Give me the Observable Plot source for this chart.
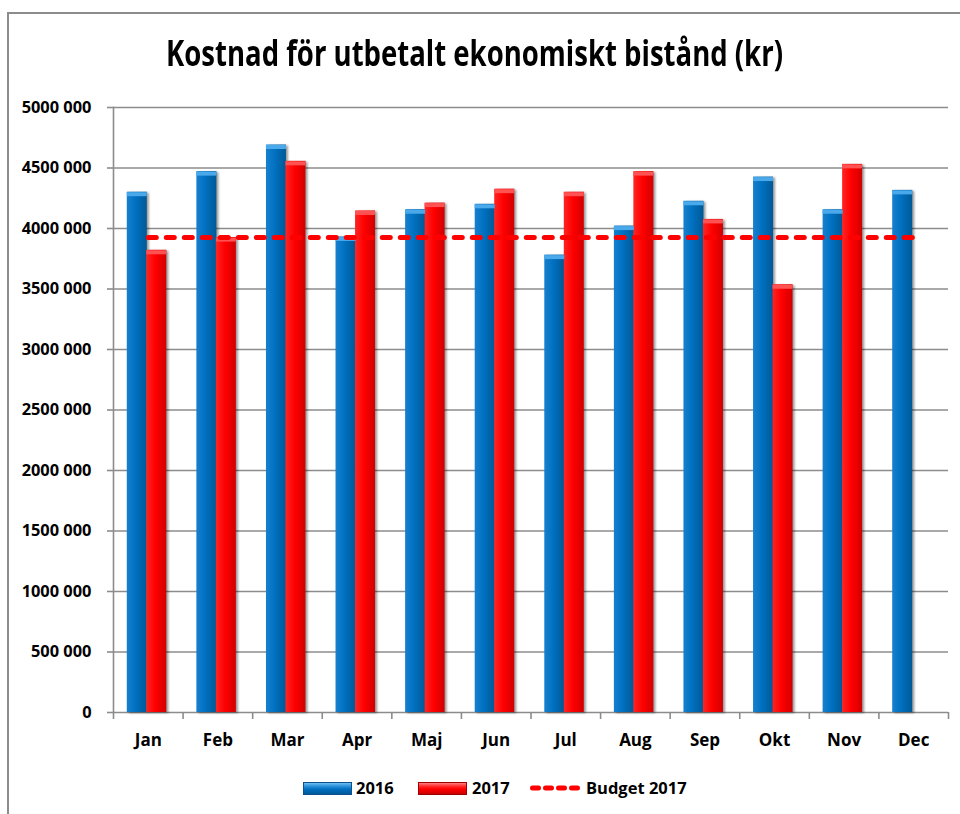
<!DOCTYPE html>
<html>
<head>
<meta charset="utf-8">
<script src="https://cdn.jsdelivr.net/npm/d3@7"></script>
<script src="https://cdn.jsdelivr.net/npm/@observablehq/plot@0.6"></script>
<style>
  html, body { margin: 0; padding: 0; background: #fff; }
  #wrap { position: relative; width: 960px; height: 814px; overflow: hidden; font-family: "Open Sans", "Noto Sans", sans-serif; color: #000; }
  #frame { position: absolute; left: 7px; top: 12px; width: 980px; height: 900px; border-left: 2px solid #8c8c8c; border-top: 2px solid #8c8c8c; }
  #title { position: absolute; left: 166px; top: 35px; font-size: 36px; font-weight: 700; line-height: 1; white-space: nowrap; transform-origin: 0 0; }
  #chart { position: absolute; left: 0; top: 95px; }
  .leg { position: absolute; font-size: 16.5px; font-weight: 700; line-height: 1; white-space: nowrap; }
  .sw { position: absolute; width: 47px; height: 11px; top: 782px; }
  #sw16 { background: linear-gradient(to bottom, #6cc0f2 0%, #2a8fd8 30%, #0070c0 55%, #005a9c 100%); border: 1px solid #10508a; }
  #sw17 { background: linear-gradient(to bottom, #ff8080 0%, #ff2a2a 30%, #ff0000 55%, #c80000 100%); border: 1px solid #a00000; }
</style>
</head>
<body>
<svg width="0" height="0" style="position:absolute">
  <defs>
    <linearGradient id="g2016" x1="0" x2="1" y1="0" y2="0">
      <stop offset="0" stop-color="#1680cf"/>
      <stop offset="0.45" stop-color="#0070c0"/>
      <stop offset="1" stop-color="#005996"/>
    </linearGradient>
    <linearGradient id="g2017" x1="0" x2="1" y1="0" y2="0">
      <stop offset="0" stop-color="#ff2424"/>
      <stop offset="0.45" stop-color="#ff0000"/>
      <stop offset="1" stop-color="#d20000"/>
    </linearGradient>
  </defs>
</svg>
<div id="wrap">
  <div id="frame"></div>
  <span id="title">Kostnad för utbetalt ekonomiskt bistånd (kr)</span>
  <div id="chart"></div>
  <div class="sw" id="sw16" style="left:303px"></div>
  <span class="leg" id="l16" style="left:356px; top:780px">2016</span>
  <div class="sw" id="sw17" style="left:418px"></div>
  <span class="leg" id="l17" style="left:472px; top:780px">2017</span>
  <svg style="position:absolute; left:528px; top:780px" width="56" height="16">
    <line x1="4.5" y1="8" x2="51" y2="8" stroke="#ff0000" stroke-width="5" stroke-linecap="round" stroke-dasharray="6,7"/>
  </svg>
  <span class="leg" id="lb" style="left:586px; top:780px">Budget 2017</span>
</div>
<script>
const months = ["Jan","Feb","Mar","Apr","Maj","Jun","Jul","Aug","Sep","Okt","Nov","Dec"];
const values2016 = [4300000, 4470000, 4690000, 3930000, 4155000, 4200000, 3780000, 4020000, 4225000, 4425000, 4155000, 4315000];
const values2017 = [3820000, 3925000, 4555000, 4145000, 4210000, 4325000, 4300000, 4470000, 4075000, 3535000, 4530000];
const budget2017 = [3925000, 3925000, 3925000, 3925000, 3925000, 3925000, 3925000, 3925000, 3925000, 3925000, 3925000, 3925000];
const yTicks = [0, 500000, 1000000, 1500000, 2000000, 2500000, 3000000, 3500000, 4000000, 4500000, 5000000];
const yTickLabels = ["0", "500 000", "1000 000", "1500 000", "2000 000", "2500 000", "3000 000", "3500 000", "4000 000", "4500 000", "5000 000"];

const d2016 = values2016.map((v, i) => ({month: months[i], value: v}));
const d2017 = values2017.map((v, i) => ({month: months[i], value: v}));
const dBudget = budget2017.map((v, i) => ({month: months[i], value: v}));

const W = 960, H = 665, ML = 113, MR = 12, MT = 12, MB = 48;
const bw = (W - ML - MR) / months.length;
const barW = 20;
const grid = "#8c8c8c";
const fontFam = "'Open Sans', 'Noto Sans', sans-serif";

const plot = Plot.plot({
  width: W, height: H,
  marginLeft: ML, marginRight: MR, marginTop: MT, marginBottom: MB,
  style: {fontFamily: fontFam, color: "#000", background: "transparent"},
  x: {domain: months, padding: 0, round: false, axis: null, label: null},
  y: {domain: [0, 5000000], axis: null, label: null},
  marks: [
    Plot.gridY(yTicks, {stroke: grid, strokeOpacity: 1, strokeWidth: 1.6}),
    Plot.frame({anchor: "left", stroke: grid, strokeWidth: 1.6}),
    Plot.axisY({ticks: yTicks, label: null, tickFormat: (d) => yTickLabels[yTicks.indexOf(d)], tickSize: 6, tickPadding: 16, stroke: grid, strokeWidth: 1.6, fontSize: 16.4, fontWeight: 700, fill: "#000"}),
    Plot.axisX({label: null, tickSize: 7, tickFormat: () => "", dx: -bw / 2, stroke: grid, strokeWidth: 1.6}),
    Plot.axisX({label: null, ticks: ["Dec"], tickSize: 7, tickFormat: () => "", dx: bw / 2, stroke: grid, strokeWidth: 1.6}),
    Plot.axisX({label: null, tickSize: 0, tickPadding: 21, fontSize: 17, fontWeight: 700, fill: "#000"}),
    Plot.barY(d2016, {x: "month", y: "value", fill: "url(#g2016)", insetLeft: bw / 2 - barW, insetRight: bw / 2, dx: -1}),
    Plot.barY(d2017, {x: "month", y: "value", fill: "url(#g2017)", insetLeft: bw / 2, insetRight: bw / 2 - barW, dx: -1.5}),
    Plot.tickY(d2016, {x: "month", y: "value", stroke: "#4aa9ea", strokeWidth: 4, dy: 2, insetLeft: bw / 2 - barW, insetRight: bw / 2, dx: -1}),
    Plot.tickY(d2017, {x: "month", y: "value", stroke: "#ff5252", strokeWidth: 4, dy: 2, insetLeft: bw / 2, insetRight: bw / 2 - barW, dx: -1.5}),
    Plot.lineY(dBudget, {x: "month", y: "value", stroke: "#ff0000", strokeWidth: 5, strokeLinecap: "round", strokeDasharray: "8,10"})
  ]
});
document.getElementById("chart").appendChild(plot);

d3.select(plot).selectAll("g[aria-label='bar']").style("filter", "drop-shadow(2px 1px 1.2px rgba(0,0,0,0.4))");

const t = document.getElementById("title");
const tw = t.getBoundingClientRect().width;
t.style.transform = `scaleX(${617 / tw})`;
</script>
</body>
</html>
